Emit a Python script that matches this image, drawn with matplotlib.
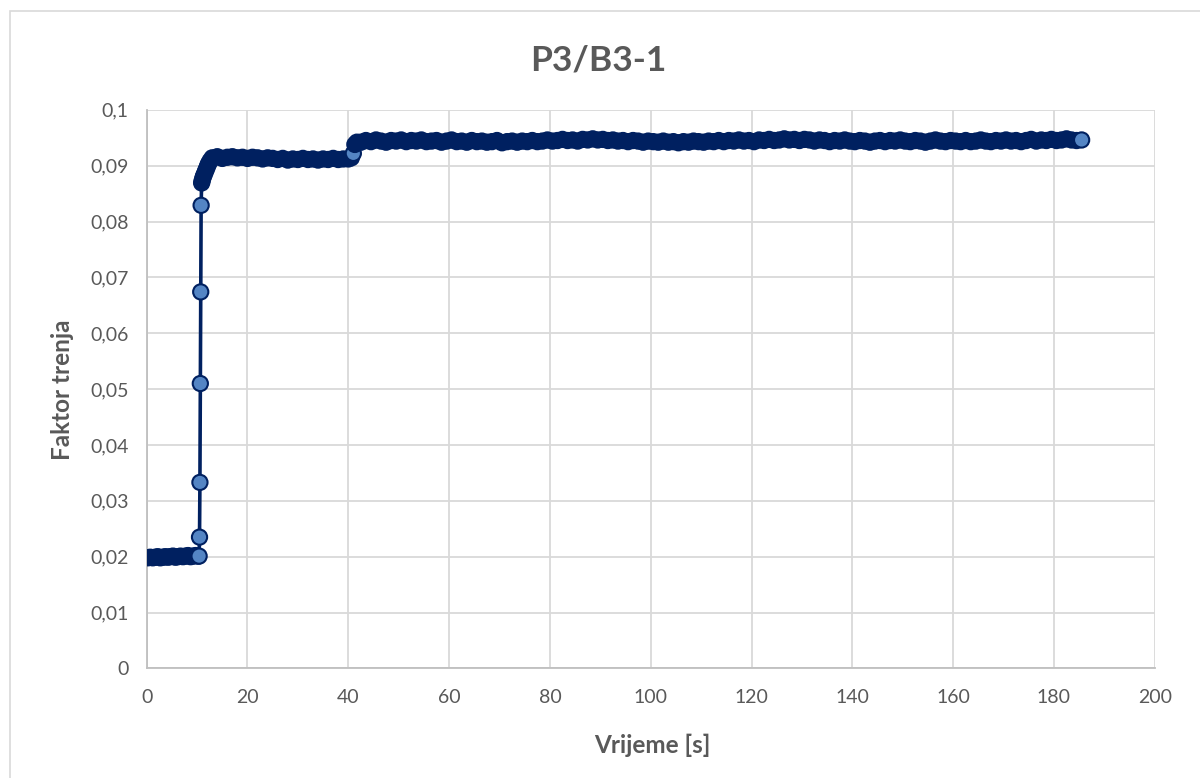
import matplotlib
matplotlib.use("Agg")
import matplotlib.pyplot as plt
import matplotlib.patches as patches
from matplotlib.ticker import FuncFormatter
import numpy as np

plt.rcParams["font.family"] = ["Lato", "DejaVu Sans"]

# --- data --------------------------------------------------------------------
title = "P3/B3-1"
x_label = "Vrijeme [s]"
y_label = "Faktor trenja"

# low-friction run-in, sampled every 0.5 s from 0.2 s
run_in_start, run_in_step = 0.2, 0.5
run_in_vals = [0.0198, 0.0199, 0.0198, 0.0199, 0.0200, 0.0198, 0.0199, 0.0200,
               0.0199, 0.0200, 0.0201, 0.0199, 0.0200, 0.0201, 0.0200, 0.0201,
               0.0202, 0.0200, 0.0201, 0.0202, 0.0201]

# jump at ~10.5 s
jump_t = [10.40, 10.48, 10.56, 10.64, 10.72, 10.80, 10.90, 11.00, 11.15, 11.30,
          11.50, 11.70, 11.90, 12.10, 12.30, 12.60]
jump_vals = [0.0201, 0.0235, 0.0333, 0.0510, 0.0674, 0.0829, 0.0869, 0.0873,
             0.0878, 0.0882, 0.0886, 0.0891, 0.0895, 0.0900, 0.0904, 0.0909]

# first plateau, every 1 s from 13 s
plat1_start, plat1_step = 13.0, 1.0
plat1_vals = [0.0914, 0.0916, 0.0913, 0.0915, 0.0916, 0.0914, 0.0915, 0.0913,
              0.0915, 0.0914, 0.0912, 0.0914, 0.0913, 0.0911, 0.0913, 0.0910,
              0.0912, 0.0911, 0.0913, 0.0911, 0.0912, 0.0910, 0.0912, 0.0911,
              0.0913, 0.0911, 0.0912, 0.0912]

# small step at ~41 s
step_t = [40.6, 41.0, 41.3, 41.7]
step_vals = [0.0914, 0.0922, 0.0938, 0.0942]

# second plateau, every 1 s from 42.5 s
plat2_start, plat2_step = 42.5, 1.0
plat2_vals = [
    0.0942, 0.0945, 0.0943, 0.0946, 0.0944, 0.0942, 0.0945, 0.0944, 0.0946, 0.0943, 0.0945, 0.0944,
    0.0946, 0.0943, 0.0944, 0.0945, 0.0942, 0.0944, 0.0946, 0.0943, 0.0944, 0.0942, 0.0945, 0.0943,
    0.0944, 0.0942, 0.0943, 0.0945, 0.0941, 0.0943, 0.0944, 0.0942, 0.0944, 0.0943, 0.0945, 0.0943,
    0.0944, 0.0946, 0.0944, 0.0945, 0.0947, 0.0945, 0.0946, 0.0944, 0.0947, 0.0946, 0.0948, 0.0946,
    0.0947, 0.0945, 0.0946, 0.0944, 0.0945, 0.0943, 0.0945, 0.0944, 0.0942, 0.0944, 0.0943, 0.0942,
    0.0944, 0.0942, 0.0943, 0.0941, 0.0943, 0.0942, 0.0944, 0.0943, 0.0942, 0.0944, 0.0943, 0.0945,
    0.0943, 0.0945, 0.0944, 0.0946, 0.0944, 0.0945, 0.0943, 0.0946, 0.0945, 0.0947, 0.0945, 0.0946,
    0.0948, 0.0946, 0.0947, 0.0945, 0.0947, 0.0946, 0.0944, 0.0946, 0.0945, 0.0943, 0.0945, 0.0944,
    0.0946, 0.0944, 0.0943, 0.0945, 0.0944, 0.0942, 0.0944, 0.0945, 0.0943, 0.0945, 0.0944, 0.0946,
    0.0944, 0.0943, 0.0945, 0.0944, 0.0942, 0.0944, 0.0946, 0.0944, 0.0943, 0.0945, 0.0944, 0.0943,
    0.0945, 0.0943, 0.0944, 0.0946, 0.0944, 0.0943, 0.0945, 0.0944, 0.0946, 0.0944, 0.0945, 0.0943,
    0.0945, 0.0947, 0.0944, 0.0946, 0.0945, 0.0947, 0.0945, 0.0946, 0.0948, 0.0946, 0.0945, 0.0946,
]

x_ticks = list(range(0, 201, 20))
y_ticks = [0, 0.01, 0.02, 0.03, 0.04, 0.05, 0.06, 0.07, 0.08, 0.09, 0.1]

# --- assemble series ---------------------------------------------------------
t = np.concatenate([
    run_in_start + run_in_step * np.arange(len(run_in_vals)),
    jump_t,
    plat1_start + plat1_step * np.arange(len(plat1_vals)),
    step_t,
    plat2_start + plat2_step * np.arange(len(plat2_vals)),
])
mu = np.concatenate([run_in_vals, jump_vals, plat1_vals, step_vals, plat2_vals])

LINE = "#002060"
FACE = "#5485C4"
GREY = "#595959"

fig = plt.figure(figsize=(12, 7.78), dpi=100)
ax = fig.add_axes([146.7 / 1200, 109.6 / 778, 1008 / 1200, 558.6 / 778])

ax.set_xlim(0, 200)
ax.set_ylim(0, 0.1)

ax.plot(t, mu, color=LINE, lw=2.6, zorder=2, solid_capstyle="round")

# Dense samples hide each other's faces under the marker outlines; only a
# marker whose next sample is far away shows its light face.
pix = ax.transData.transform(np.column_stack([t, mu]))
gap = np.hypot(*np.diff(pix, axis=0).T)
faces = [FACE if g > 8 else LINE for g in gap] + [FACE]
ax.scatter(t, mu, s=120, c=faces, edgecolors=LINE, linewidths=1.5, zorder=3)

ax.set_xticks(x_ticks)
ax.set_yticks(y_ticks)
ax.yaxis.set_major_formatter(FuncFormatter(lambda v, _: ("%g" % round(v, 4)).replace(".", ",")))
ax.tick_params(length=0, labelsize=14, labelcolor=GREY)
ax.tick_params(axis="y", pad=13)
ax.tick_params(axis="x", pad=15)

ax.grid(True, color="#d9d9d9", lw=1.3)
ax.set_axisbelow(True)
for side in ["top", "right"]:
    ax.spines[side].set_visible(False)
for side in ["left", "bottom"]:
    ax.spines[side].set_color("#bfbfbf")
    ax.spines[side].set_linewidth(1.3)

fig.text(598 / 1200, 1 - 60 / 778, title, ha="center", va="center",
         fontsize=25.5, fontweight="bold", color=GREY)
fig.text(652 / 1200, 1 - 745 / 778, x_label, ha="center", va="center",
         fontsize=17.5, fontweight="bold", color=GREY)
fig.text(62 / 1200, 1 - 390 / 778, y_label, ha="center", va="center",
         rotation=90, fontsize=17.5, fontweight="bold", color=GREY)

# chart-area border
fig.patches.append(patches.Rectangle((10 / 1200, -0.5), 2, 0.5 + (778 - 11) / 778,
                                     transform=fig.transFigure, fill=False,
                                     edgecolor="#d9d9d9", lw=1.2))

fig.savefig("out.png", dpi=100)
